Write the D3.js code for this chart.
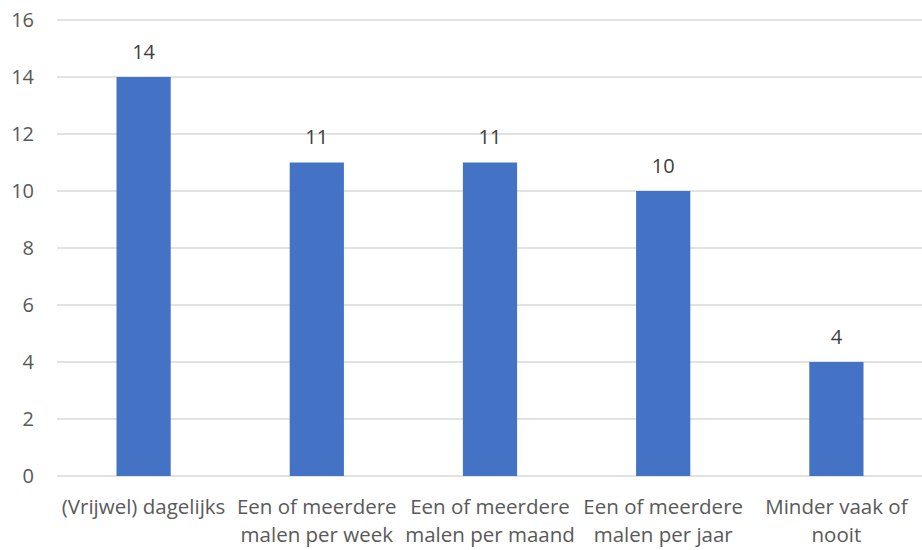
<!DOCTYPE html>
<html><head><meta charset="utf-8">
<script src="https://cdn.jsdelivr.net/npm/d3@7"></script>
<style>body{margin:0;background:#fff}</style>
</head><body><svg id="c" width="922" height="550"></svg>
<script>
const categories = [["(Vrijwel) dagelijks"],["Een of meerdere","malen per week"],["Een of meerdere","malen per maand"],["Een of meerdere","malen per jaar"],["Minder vaak of","nooit"]];
const values = [14, 11, 11, 10, 4];
const yTicks = [0, 2, 4, 6, 8, 10, 12, 14, 16];

const svg = d3.select("#c");
const font = "'Open Sans', sans-serif";
const mLeft = 57, mRight = 923, mTop = 20, mBottom = 476;
const x = d3.scaleBand().domain(d3.range(categories.length)).range([mLeft, mRight]).padding(0);
const y = d3.scaleLinear().domain([0, 16]).range([mBottom, mTop]);
const barW = x.bandwidth() * 0.313;

svg.append("g").selectAll("line").data(yTicks).join("line")
  .attr("x1", mLeft).attr("x2", 922).attr("y1", d => y(d)).attr("y2", d => y(d))
  .attr("stroke", "#d9d9d9").attr("stroke-width", 1.3);

svg.append("g").selectAll("text").data(yTicks).join("text")
  .attr("x", 34).attr("y", d => y(d) + 7).attr("text-anchor", "end")
  .attr("font-family", font).attr("font-size", 20).attr("fill", "#595959").text(d => d);

svg.append("g").selectAll("rect").data(values).join("rect")
  .attr("x", (d, i) => x(i) + x.bandwidth() / 2 - barW / 2).attr("width", barW)
  .attr("y", d => y(d)).attr("height", d => y(0) - y(d)).attr("fill", "#4472c4");

svg.append("g").selectAll("text").data(values).join("text")
  .attr("x", (d, i) => x(i) + x.bandwidth() / 2).attr("y", d => y(d) - 18.5)
  .attr("text-anchor", "middle").attr("font-family", font).attr("font-size", 20).attr("fill", "#404040").text(d => d);

const lg = svg.append("g").selectAll("text").data(categories).join("text")
  .attr("x", (d, i) => x(i) + x.bandwidth() / 2).attr("y", 514)
  .attr("text-anchor", "middle").attr("font-family", font).attr("font-size", 20.5).attr("fill", "#595959");
lg.selectAll("tspan").data(d => d).join("tspan")
  .attr("x", function() { return this.parentNode.getAttribute("x"); })
  .attr("dy", (d, i) => i === 0 ? 0 : 28).text(d => d);
</script></body></html>
